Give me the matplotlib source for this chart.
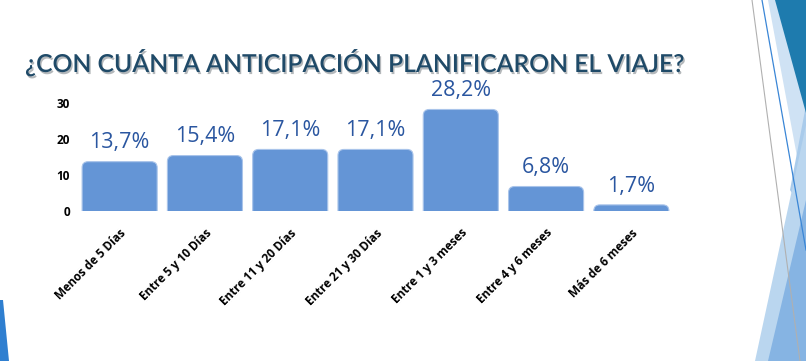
import matplotlib
matplotlib.use('Agg')
import matplotlib.pyplot as plt
import matplotlib.patheffects as pe
from matplotlib.patches import FancyBboxPatch, Polygon

categories = ['Menos de 5 Días', 'Entre 5 y 10 Días', 'Entre 11 y 20 Días',
              'Entre 21 y 30 Días', 'Entre 1 y 3 meses', 'Entre 4 y 6 meses',
              'Más de 6 meses']
values = [13.7, 15.4, 17.1, 17.1, 28.2, 6.8, 1.7]
labels = ['13,7%', '15,4%', '17,1%', '17,1%', '28,2%', '6,8%', '1,7%']
yticks = [0, 10, 20, 30]

W, H = 806, 361
fig = plt.figure(figsize=(W / 100, H / 100), dpi=100)
ax = fig.add_axes([77 / W, 1 - 211 / H, (674 - 77) / W, (211 - 103) / H])

bar_color = '#6495D6'
bars = ax.bar(range(len(values)), values, width=0.88, color=bar_color)
ax.set_xlim(-0.5, len(values) - 0.5)
ax.set_ylim(0, 30)

# swap plain bars for rounded-top ones (bottom pushed below 0 and clipped)
px_x = (674 - 77) / len(values)
px_y = (211 - 103) / 30
for b in bars:
    x, w, h = b.get_x(), b.get_width(), b.get_height()
    rb = FancyBboxPatch((x, -3), w, h + 3,
                        boxstyle='round,pad=0,rounding_size=0.07',
                        mutation_aspect=px_x / px_y,
                        facecolor=bar_color, edgecolor='#A9C4EA', linewidth=0.8,
                        clip_on=True)
    ax.add_patch(rb)
    b.set_visible(False)

for i, (v, t) in enumerate(zip(values, labels)):
    ax.annotate(t, (i, v), xytext=(0, 6), textcoords='offset points',
                ha='center', va='bottom', fontsize=15.5, color='#2A56A0',
                family='Open Sans', annotation_clip=False)

ax.set_yticks(yticks)
ax.set_yticklabels([str(t) for t in yticks], fontsize=8.5, fontweight='bold',
                   family='Open Sans')
ax.set_xticks(range(len(categories)))
ax.set_xticklabels(categories, rotation=45, ha='right', rotation_mode='anchor',
                   fontsize=8.5, fontweight='bold', family='Open Sans')
ax.tick_params(axis='y', length=0, pad=5)
ax.tick_params(axis='x', length=0, pad=11)
for s in ax.spines.values():
    s.set_visible(False)

fig.text(25 / W, 1 - 72 / H, '¿CON CUÁNTA ANTICIPACIÓN PLANIFICARON EL VIAJE?',
         fontsize=17.8, color='#1F4A68', family='Lato', fontweight='semibold',
         va='baseline', ha='left',
         path_effects=[pe.SimplePatchShadow(offset=(1, -1.5), alpha=0.3),
                       pe.Normal()])

# slide decoration on the right and bottom-left
def fpoly(pts, color):
    p = Polygon([(x / W, 1 - y / H) for x, y in pts], closed=True,
                transform=fig.transFigure, facecolor=color, edgecolor=color,
                linewidth=0)
    fig.add_artist(p)

fpoly([(768, 0), (806, 0), (806, 205)], '#CFE2F4')
fpoly([(806, 105), (790, 190), (806, 215)], '#A9CBEB')
fpoly([(775, 0), (806, 0), (806, 113)], '#1E7BAE')
fpoly([(806, 125), (755, 361), (806, 361)], '#BAD6EF')
fpoly([(806, 200), (768, 361), (806, 361)], '#86B4E3')
fig.add_artist(plt.Line2D([752 / W, 800 / W], [1, 0], color='#B0B0B0', lw=0.8))
fig.add_artist(plt.Line2D([762 / W, 806 / W], [1, 1 - 250 / H], color='#3A86D6', lw=0.9))
fpoly([(0, 300), (3, 300), (9, 361), (0, 361)], '#2F7FD0')

fig.savefig('out.png', dpi=100)
